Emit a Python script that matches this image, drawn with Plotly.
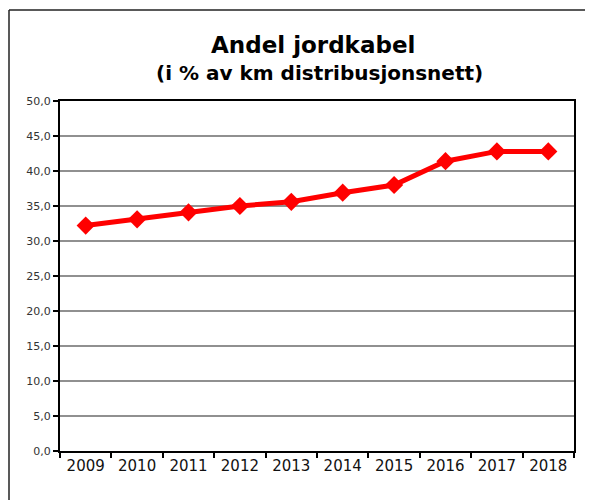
import plotly.graph_objects as go

years = ["2009", "2010", "2011", "2012", "2013", "2014", "2015", "2016", "2017", "2018"]
andel = [32.2, 33.1, 34.1, 35.0, 35.6, 36.9, 38.0, 41.4, 42.8, 42.8]
ytick_vals = [0, 5, 10, 15, 20, 25, 30, 35, 40, 45, 50]
ytick_text = ["0,0", "5,0", "10,0", "15,0", "20,0", "25,0", "30,0", "35,0", "40,0", "45,0", "50,0"]
title = "Andel jordkabel"
subtitle = "(i % av km distribusjonsnett)"

# page has an 8px body margin; the figure is sized to fit the 593x500 window
OFF = 8
W, H = 593 - OFF, 500 - OFF
L, R, T, B = 60 - OFF, 593 - 574, 101 - OFF, 500 - 451
pw, ph = W - L - R, H - T - B

def px(x):  # page pixel x -> paper
    return (x - OFF - L) / pw

def py(y):  # page pixel y -> paper
    return (H - B - (y - OFF)) / ph

fig = go.Figure()
fig.add_trace(go.Scatter(
    x=years, y=andel, mode="lines+markers",
    line=dict(color="#ff0000", width=5),
    marker=dict(symbol="diamond", size=14, color="#ff0000"),
    showlegend=False, hoverinfo="x+y",
))

fig.update_layout(
    width=W, height=H,
    margin=dict(l=L, r=R, t=T, b=B, pad=0),
    paper_bgcolor="white", plot_bgcolor="white",
    font=dict(family="DejaVu Sans, Arial, sans-serif", color="#000"),
    xaxis=dict(
        type="category", tickson="boundaries", ticks="outside", ticklen=5,
        tickcolor="#000", tickwidth=1.5,
        showline=True, linecolor="#000", linewidth=2, mirror=True,
        showgrid=False, tickfont=dict(size=15, color="#111"),
        range=[-0.5, 9.5],
    ),
    yaxis=dict(
        range=[0, 50], tickvals=ytick_vals, ticktext=ytick_text,
        ticks="outside", ticklen=5, tickcolor="#000", tickwidth=1.5,
        showline=True, linecolor="#000", linewidth=2, mirror=True,
        showgrid=True, gridcolor="#909090", gridwidth=1.5,
        tickfont=dict(size=11, color="#333"), zeroline=False,
    ),
    shapes=[
        dict(type="line", xref="paper", yref="paper", x0=px(9), x1=px(600), y0=py(10), y1=py(10),
             line=dict(color="#222", width=1.5)),
        dict(type="line", xref="paper", yref="paper", x0=px(9), x1=px(9), y0=py(10), y1=py(510),
             line=dict(color="#222", width=1.5)),
    ],
    annotations=[
        dict(text="<b>" + title + "</b>", xref="paper", yref="paper", x=px(313), y=py(45),
             yanchor="middle", xanchor="center", showarrow=False, font=dict(size=23, color="#000")),
        dict(text="<b>" + subtitle + "</b>", xref="paper", yref="paper", x=px(319), y=py(73),
             yanchor="middle", xanchor="center", showarrow=False, font=dict(size=20, color="#000")),
    ],
)

fig.write_html("out.html")
